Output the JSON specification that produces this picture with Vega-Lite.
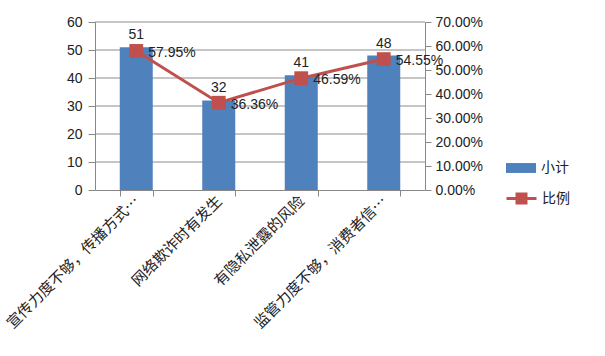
{
  "$schema": "https://vega.github.io/schema/vega-lite/v6.json",
  "width": 330,
  "height": 168,
  "autosize": {"type": "none"},
  "padding": {"left": 95, "top": 22, "right": 180, "bottom": 166},
  "background": "white",
  "data": {
    "values": [
      {"类别": "宣传力度不够，传播方式…", "小计": 51, "比例": 0.5795},
      {"类别": "网络欺诈时有发生", "小计": 32, "比例": 0.3636},
      {"类别": "有隐私泄露的风险", "小计": 41, "比例": 0.4659},
      {"类别": "监管力度不够，消费者信…", "小计": 48, "比例": 0.5455}
    ]
  },
  "layer": [
    {
      "data": {"values": [{"g": 10}, {"g": 20}, {"g": 30}, {"g": 40}, {"g": 50}, {"g": 60}]},
      "mark": {"type": "rule", "color": "#8c8c8c", "strokeWidth": 1},
      "encoding": {
        "y": {"field": "g", "type": "quantitative", "scale": {"domain": [0, 60], "nice": false}, "axis": null}
      }
    },
    {
      "layer": [
        {
          "mark": {"type": "bar"},
          "encoding": {
            "y": {
              "field": "小计",
              "type": "quantitative",
              "scale": {"domain": [0, 60], "nice": false},
              "axis": {
                "title": null,
                "orient": "left",
                "values": [0, 10, 20, 30, 40, 50, 60],
                "grid": false,
                "domainColor": "#888",
                "tickColor": "#888",
                "tickSize": 7,
                "labelFont": "Liberation Sans",
                "labelFontSize": 14,
                "labelColor": "#222",
                "labelPadding": 6
              }
            },
            "fill": {
              "datum": "小计",
              "scale": {"range": ["#4F81BD"]},
              "legend": {
                "title": null,
                "orient": "none",
                "legendX": 410,
                "legendY": 130,
                "symbolType": "M-1,-0.33H1V0.33H-1Z",
                "symbolSize": 900,
                "labelFont": "Noto Sans CJK SC",
                "labelFontSize": 14,
                "labelColor": "#222"
              }
            }
          }
        },
        {
          "mark": {"type": "line", "strokeWidth": 3},
          "encoding": {
            "y": {
              "field": "比例",
              "type": "quantitative",
              "scale": {"domain": [0, 0.7], "nice": false},
              "axis": {
                "title": null,
                "orient": "right",
                "format": ".2%",
                "values": [0, 0.1, 0.2, 0.3, 0.4, 0.5, 0.6, 0.7],
                "grid": false,
                "domainColor": "#888",
                "tickColor": "#888",
                "tickSize": 6,
                "labelFont": "Liberation Sans",
                "labelFontSize": 14,
                "labelColor": "#222",
                "labelPadding": 4
              }
            },
            "stroke": {
              "datum": "比例",
              "scale": {"range": ["#C0504D"]},
              "legend": {
                "title": null,
                "orient": "none",
                "legendX": 410,
                "legendY": 160,
                "symbolType": "M-1,0H-0.3V-0.3H0.3V0H1M0.3,0V0.3H-0.3V0",
                "symbolSize": 900,
                "symbolStrokeWidth": 3,
                "symbolFillColor": "#C0504D",
                "labelFont": "Noto Sans CJK SC",
                "labelFontSize": 14,
                "labelColor": "#222"
              }
            }
          }
        },
        {
          "mark": {"type": "square", "size": 190, "opacity": 1, "color": "#C0504D"},
          "encoding": {
            "y": {"field": "比例", "type": "quantitative", "scale": {"domain": [0, 0.7], "nice": false}, "axis": null}
          }
        },
        {
          "mark": {"type": "text", "dy": -12, "font": "Liberation Sans", "fontSize": 14, "color": "#222"},
          "encoding": {
            "y": {"field": "小计", "type": "quantitative", "scale": {"domain": [0, 60], "nice": false}, "axis": null},
            "text": {"field": "小计", "type": "quantitative"}
          }
        },
        {
          "mark": {"type": "text", "align": "left", "baseline": "middle", "dx": 12, "dy": 2, "font": "Liberation Sans", "fontSize": 14, "color": "#222"},
          "encoding": {
            "y": {"field": "比例", "type": "quantitative", "scale": {"domain": [0, 0.7], "nice": false}, "axis": null},
            "text": {"field": "比例", "type": "quantitative", "format": ".2%"}
          }
        }
      ],
      "encoding": {
        "x": {
          "field": "类别",
          "type": "nominal",
          "sort": null,
          "scale": {"paddingInner": 0.6, "paddingOuter": 0.3},
          "axis": {
            "title": null,
            "labelAngle": -45,
            "labelAlign": "right",
            "labelBaseline": "middle",
            "labelFont": "Noto Sans CJK SC",
            "labelFontSize": 15,
            "labelColor": "#222",
            "labelLimit": 260,
            "tickBand": "extent",
            "domainColor": "#888",
            "tickColor": "#888",
            "tickSize": 6,
            "labelPadding": 2
          }
        }
      },
      "resolve": {"scale": {"y": "independent"}}
    }
  ],
  "resolve": {"scale": {"y": "independent"}},
  "config": {"view": {"stroke": null}}
}
